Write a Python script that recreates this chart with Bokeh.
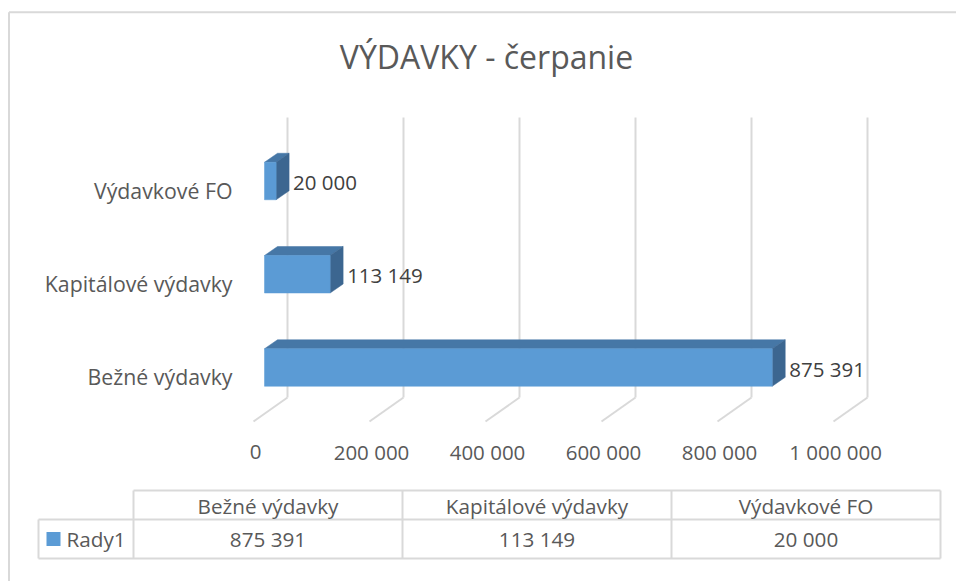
from bokeh.plotting import figure
from bokeh.models import Range1d
from bokeh.core.properties import value
from bokeh.embed import file_html
from bokeh.resources import INLINE

# ---------------- data ----------------
TITLE = "VÝDAVKY - čerpanie"
CATEGORIES = ["Bežné výdavky", "Kapitálové výdavky", "Výdavkové FO"]
VALUES = [875391, 113149, 20000]
SERIES = "Rady1"
TICKS = [0, 200000, 400000, 600000, 800000, 1000000]


def fmt(v):
    return f"{v:,}".replace(",", " ")


# ---------------- geometry / style ----------------
W, H = 956, 581
X0 = 264              # canvas px of value 0 (bar front face)
PX = 116 / 200000     # px per value unit
Y0 = 367              # canvas px (from top) of category 0 centre
CAT = 93.25           # px per category
FONT = value("Open Sans")
TXT = "#595959"
GRID = "#D9D9D9"

DX = 13 / PX          # bar depth, x (value units)
DY = 9 / CAT          # bar depth, y (category units)
HB = 18.75 / CAT      # half bar height

p = figure(width=W, height=H, output_backend="svg", toolbar_location=None,
           x_range=Range1d(-X0 / PX, (W - X0) / PX),
           y_range=Range1d(-(H - Y0) / CAT, Y0 / CAT),
           x_axis_location=None, y_axis_location=None,
           min_border=0, min_border_left=0, min_border_right=0,
           min_border_top=0, min_border_bottom=0)
p.xgrid.visible = False
p.ygrid.visible = False
p.outline_line_color = None
p.background_fill_color = "white"
p.border_fill_color = "white"
p.extra_x_ranges = {"px": Range1d(0, W)}
p.extra_y_ranges = {"py": Range1d(H, 0)}

# chart area border (left & top visible)
p.segment(x0=[8.5, 8.5], y0=[11.8, 11.8], x1=[8.5, W], y1=[H, 11.8],
          line_color=GRID, line_width=2, x_range_name="px", y_range_name="py")

# title
p.text(x=[486], y=[56], text=[TITLE], x_range_name="px", y_range_name="py",
       text_align="center", text_baseline="middle", text_font=FONT,
       text_font_size=value("32px"), text_color=TXT)

# back-wall gridlines and floor lines
back = [t + 23 / PX for t in TICKS]
front = [t - 11 / PX for t in TICKS]
p.segment(x0=back, y0=[117] * len(TICKS), x1=back, y1=[397] * len(TICKS),
          line_color=GRID, line_width=2, y_range_name="py")
p.segment(x0=back, y0=[397] * len(TICKS), x1=front, y1=[421] * len(TICKS),
          line_color=GRID, line_width=2, y_range_name="py")

# tick labels
p.text(x=[t - 9 / PX for t in TICKS], y=[451] * len(TICKS),
       text=[fmt(t) for t in TICKS], y_range_name="py",
       text_align="center", text_baseline="middle", text_font=FONT,
       text_font_size=value("20.5px"), text_color=TXT)

# 3D bars
idx = list(range(len(VALUES)))
tops = [i + HB for i in idx]
bots = [i - HB for i in idx]
top_xs = [[0, v, v + DX, DX] for v in VALUES]
top_ys = [[t, t, t + DY, t + DY] for t in tops]
side_xs = [[v, v + DX, v + DX, v] for v in VALUES]
side_ys = [[t, t + DY, b + DY, b] for t, b in zip(tops, bots)]
p.patches(xs=top_xs, ys=top_ys, fill_color="#4677A6", line_color="#4677A6",
          line_width=0.5)
p.patches(xs=side_xs, ys=side_ys, fill_color="#3C6690", line_color="#3C6690",
          line_width=0.5)
p.quad(left=[0] * len(VALUES), right=VALUES, bottom=bots, top=tops,
       fill_color="#5B9BD5", line_color="#5B9BD5", line_width=0.5)

# value labels
p.text(x=[v + 17 / PX for v in VALUES], y=[i - 1 / CAT for i in idx],
       text=[fmt(v) for v in VALUES], text_align="left",
       text_baseline="middle", text_font=FONT,
       text_font_size=value("20.5px"), text_color="#404040")

# category labels
p.text(x=[232] * len(CATEGORIES), y=[i - 9 / CAT for i in idx],
       text=CATEGORIES, x_range_name="px", text_align="right",
       text_baseline="middle", text_font=FONT,
       text_font_size=value("21.3px"), text_color=TXT)

# data table
COLS = [133, 402, 671, 940]
ROWS = [490, 519, 558]
hx0 = [COLS[0], 38, 38]
hx1 = [COLS[-1]] * 3
p.segment(x0=hx0, y0=ROWS, x1=hx1, y1=ROWS, line_color=GRID, line_width=2,
          x_range_name="px", y_range_name="py")
vx = [38] + COLS
vy0 = [ROWS[1]] + [ROWS[0]] * len(COLS)
p.segment(x0=vx, y0=vy0, x1=vx, y1=[ROWS[2]] * len(vx), line_color=GRID,
          line_width=2, x_range_name="px", y_range_name="py")
ccx = [(COLS[k] + COLS[k + 1]) / 2 for k in range(len(CATEGORIES))]
p.text(x=ccx, y=[505] * len(CATEGORIES), text=CATEGORIES,
       x_range_name="px", y_range_name="py", text_align="center",
       text_baseline="middle", text_font=FONT,
       text_font_size=value("20.7px"), text_color=TXT)
p.text(x=ccx, y=[538] * len(VALUES), text=[fmt(v) for v in VALUES],
       x_range_name="px", y_range_name="py", text_align="center",
       text_baseline="middle", text_font=FONT,
       text_font_size=value("20.7px"), text_color=TXT)
p.rect(x=[53], y=[538.5], width=14, height=14, fill_color="#5B9BD5",
       line_color=None, x_range_name="px", y_range_name="py")
p.text(x=[66], y=[538], text=[SERIES], x_range_name="px", y_range_name="py",
       text_align="left", text_baseline="middle", text_font=FONT,
       text_font_size=value("20.7px"), text_color=TXT)

open("out.html", "w").write(file_html(p, INLINE))
